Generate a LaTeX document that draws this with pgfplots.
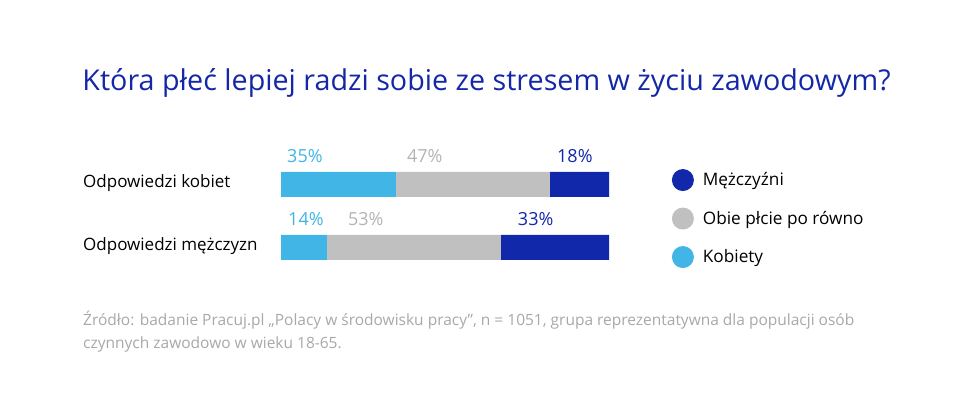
\documentclass[border=0pt]{standalone}
\usepackage{fontspec}
\setmainfont{Open Sans}
\usepackage{pgfplots}
\pgfplotsset{compat=1.18}

\definecolor{lblue}{HTML}{41B5E5}
\definecolor{mgray}{HTML}{C0C0C0}
\definecolor{dblue}{HTML}{1028A9}
\definecolor{titleblue}{HTML}{1428A6}
\definecolor{lblgray}{HTML}{B3B3B3}
\definecolor{srcgray}{HTML}{A8A8A8}

\tikzset{vlabel/.style={anchor=base west, inner sep=0pt, yshift=22pt, font=\fontsize{18}{21}\selectfont}}

\begin{document}
\begin{tikzpicture}[x=1pt,y=1pt]
\path[use as bounding box] (0,0) rectangle (960,398);

% title
\node[anchor=base, text=titleblue, inner sep=0pt]
  at (486.5,307) {\fontsize{28.7}{32}\selectfont Która płeć lepiej radzi sobie ze stresem w życiu zawodowym?};

% category labels
\node[anchor=base west, inner sep=0pt] at (83,210)
  {\fontsize{17}{20}\selectfont Odpowiedzi kobiet};
\node[anchor=base west, inner sep=0pt] at (83,147)
  {\fontsize{17}{20}\selectfont Odpowiedzi mężczyzn};

\begin{axis}[
  at={(281pt,119pt)}, anchor=south west,
  scale only axis, width=328pt, height=126pt,
  xmin=0, xmax=100, ymin=-0.5, ymax=1.5,
  xbar stacked, bar width=25pt,
  hide axis,
  clip=false,
  reverse legend,
  legend cell align=left,
  legend image code/.code={\fill[#1,draw=none] (0pt,0pt) circle (11pt);},
  legend style={at={(1.182,0.89)}, anchor=north west, draw=none, fill=none,
    row sep=16.5pt, column sep=7pt,
    font=\fontsize{17.2}{20}\selectfont},
]
\addplot[fill=lblue, draw=none] coordinates {(14,0) (35,1)};
\addplot[fill=mgray, draw=none] coordinates {(53,0) (47,1)};
\addplot[fill=dblue, draw=none] coordinates {(33,0) (18,1)};
\legend{Kobiety, Obie płcie po równo, Mężczyźni}

% value labels above each segment
\node[vlabel, text=lblue, xshift=6pt] at (axis cs:0,1) {35\%};
\node[vlabel, text=lblgray, xshift=11pt] at (axis cs:35,1) {47\%};
\node[vlabel, text=dblue, xshift=7pt] at (axis cs:82,1) {18\%};
\node[vlabel, text=lblue, xshift=7pt] at (axis cs:0,0) {14\%};
\node[vlabel, text=lblgray, xshift=21pt] at (axis cs:14,0) {53\%};
\node[vlabel, text=dblue, xshift=17pt] at (axis cs:67,0) {33\%};
\end{axis}

% source note
\node[anchor=base west, inner sep=0pt, text=srcgray] at (83,72)
  {\fontsize{15.5}{18}\selectfont Źródło: badanie Pracuj.pl „Polacy w środowisku pracy”, n = 1051, grupa reprezentatywna dla populacji osób};
\node[anchor=base west, inner sep=0pt, text=srcgray] at (83,49)
  {\fontsize{15.5}{18}\selectfont czynnych zawodowo w wieku 18-65.};
\end{tikzpicture}
\end{document}
